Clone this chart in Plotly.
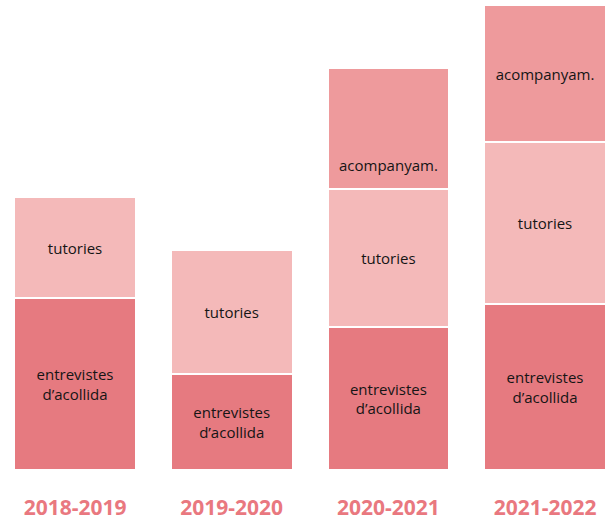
import plotly.graph_objects as go

cursos = ["2018-2019", "2019-2020", "2020-2021", "2021-2022"]
entrevistes = [172, 96, 143, 166]
tutories = [101, 124, 138, 162]
acompanyam = [0, 0, 121, 137]

noms = ["entrevistes<br>d’acollida", "tutories", "acompanyam."]
colors = ["#E67A80", "#F4B9B9", "#EE9A9C"]

fig = go.Figure()

series = [entrevistes, tutories, acompanyam]
for nom, vals, col in zip(noms, series, colors):
    txt = [nom if v > 0 else "" for v in vals]
    if nom == "acompanyam.":
        txt[2] = ""  # label placed lower in this bar, see annotation
    fig.add_trace(go.Bar(
        x=cursos, y=vals, name=nom,
        marker=dict(color=col, line=dict(color="white", width=2.5)),
        text=txt, textposition="inside", insidetextanchor="middle",
        textangle=0,
        textfont=dict(family="Open Sans", size=15, color="#151515"),
        hoverinfo="skip",
    ))

# acompanyam. label in 2020-2021 sits near the bottom of its segment
fig.add_annotation(
    x=cursos[2], y=entrevistes[2] + tutories[2] + 0.2 * acompanyam[2],
    text="acompanyam.", showarrow=False,
    font=dict(family="Open Sans", size=15, color="#151515"),
)

fig.update_layout(
    barmode="stack",
    bargap=0.22,
    width=611, height=519,
    margin=dict(l=0, r=0, t=5, b=49),
    plot_bgcolor="white", paper_bgcolor="white",
    showlegend=False,
    xaxis=dict(
        range=[-0.479, 3.421],
        showgrid=False, zeroline=False, showline=False, ticks="",
        tickfont=dict(family="Open Sans", size=21, color="#E9787F", weight="bold"),
        ticklabelstandoff=23,
        automargin=False,
    ),
    yaxis=dict(range=[0, 465], visible=False, fixedrange=True),
)

fig.write_html(
    "out.html",
    config={"displayModeBar": False},
    post_script="document.body.style.margin='0';document.body.style.overflow='hidden';",
)
